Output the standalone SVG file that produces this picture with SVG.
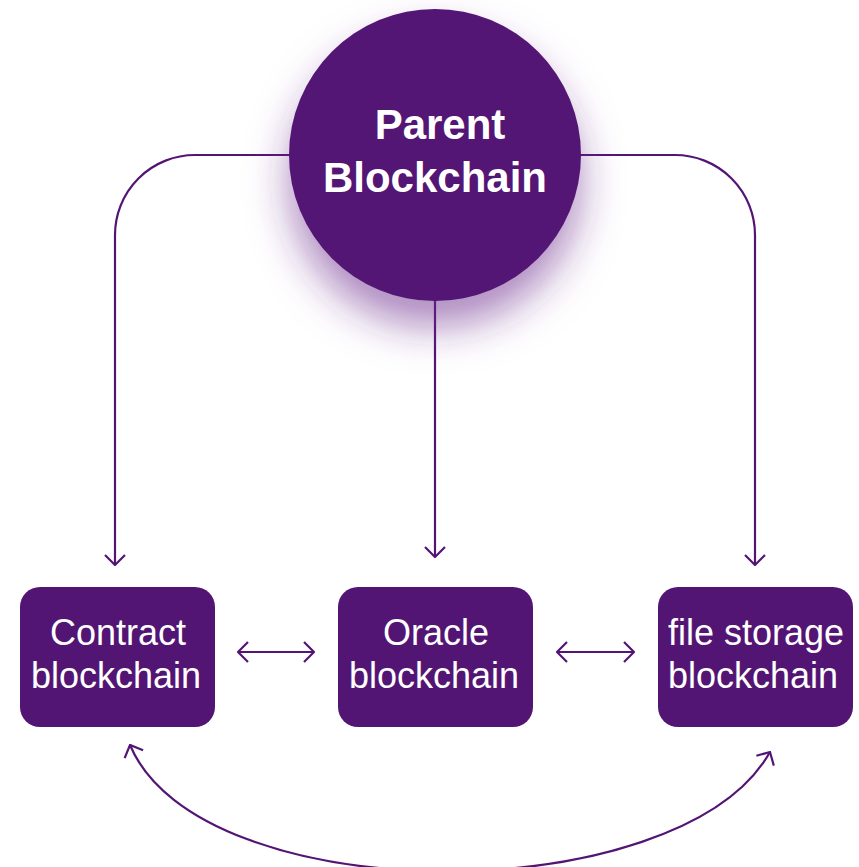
<svg xmlns="http://www.w3.org/2000/svg" width="859" height="867" viewBox="0 0 859 867">
<style>
.box{fill:#531574}
.lbl{fill:#fff;font-family:"Liberation Sans",Arial,sans-serif;font-size:36px;text-anchor:middle}
.big{fill:#fff;font-family:"Liberation Sans",Arial,sans-serif;font-size:42px;font-weight:bold;text-anchor:middle}
.con{fill:none;stroke:#531574;stroke-width:2.2}
</style>
<defs>
<marker id="ah" viewBox="0 0 12 22" refX="11" refY="11" markerWidth="12" markerHeight="22" markerUnits="userSpaceOnUse" orient="auto-start-reverse">
<path d="M1,1 L11,11 L1,21" fill="none" stroke="#531574" stroke-width="2.2"/>
</marker>
<filter id="sh" x="-50%" y="-50%" width="200%" height="210%">
<feDropShadow dx="0" dy="26" stdDeviation="20" flood-color="#6a2c8a" flood-opacity="0.55"/>
</filter>
</defs>
<g id="connectors">
<path class="con" d="M290,155 H195 A80,80 0 0 0 115,235 V565" marker-end="url(#ah)"/>
<path class="con" d="M580,155 H675 A80,80 0 0 1 755,235 V565" marker-end="url(#ah)"/>
<path class="con" d="M435,300 V557" marker-end="url(#ah)"/>
<path class="con" d="M238,652 H314" marker-start="url(#ah)" marker-end="url(#ah)"/>
<path class="con" d="M557,652 H634" marker-start="url(#ah)" marker-end="url(#ah)"/>
<path class="con" d="M130,745 C200,912 680,912 770,752" marker-start="url(#ah)" marker-end="url(#ah)"/>
</g>
<g id="parent">
<circle cx="435" cy="155" r="146" fill="#531574" filter="url(#sh)"/>
<text class="big" x="440" y="139">Parent</text>
<text class="big" x="435" y="192">Blockchain</text>
</g>
<g id="contract">
<rect class="box" x="20" y="587" width="195" height="140" rx="20"/>
<text class="lbl" x="118" y="645">Contract</text>
<text class="lbl" x="116" y="688">blockchain</text>
</g>
<g id="oracle">
<rect class="box" x="338" y="587" width="195" height="140" rx="20"/>
<text class="lbl" x="436" y="645">Oracle</text>
<text class="lbl" x="434" y="688">blockchain</text>
</g>
<g id="filestorage">
<rect class="box" x="658" y="587" width="195" height="140" rx="20"/>
<text class="lbl" x="756" y="645">file storage</text>
<text class="lbl" x="753" y="688">blockchain</text>
</g>
</svg>
